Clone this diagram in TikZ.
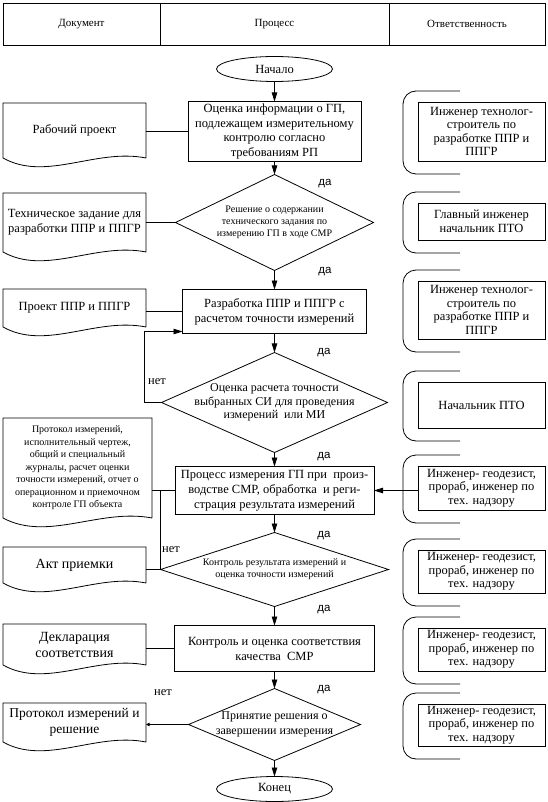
\documentclass[tikz,border=0pt]{standalone}
\usepackage{fontspec}
\setmainfont{LiberationSerif}[Extension=.ttf, UprightFont=*-Regular, BoldFont=*-Bold, ItalicFont=*-Italic, BoldItalicFont=*-BoldItalic]
\newfontfamily\lblsans{LiberationSans}[Extension=.ttf, UprightFont=*-Regular]
\usepackage{tikz}
\usetikzlibrary{calc, shapes.geometric, arrows.meta, positioning}

\begin{document}
\begin{tikzpicture}[
        x=1pt, y=-1pt,
        line width=0.8pt,
        every node/.style = {outer sep=0pt},
        hdr/.style = {draw, rectangle, anchor=north west, minimum height=42pt, font=\fontsize{11}{13}\selectfont},
        procbox/.style = {draw, rectangle, align=center, inner sep=2pt, font=\fontsize{12.5}{15}\selectfont},
        decision/.style = {draw, diamond, align=center, inner sep=-8pt},
        terminal/.style = {draw, ellipse, inner sep=-2pt, minimum width=116pt, minimum height=25pt, font=\fontsize{12.5}{15}\selectfont},
        docnode/.style = {rectangle, anchor=north west, minimum width=143pt, align=center, inner sep=2pt, font=\fontsize{12.5}{15}\selectfont},
        respbox/.style = {draw, rectangle, anchor=north west, minimum width=127pt, align=center, inner sep=2pt, font=\fontsize{12.5}{13.5}\selectfont},
        arrow/.style = {-{Triangle[width=5.5pt, length=9pt]}},
        tinyarrow/.style = {-{Triangle[width=3.5pt, length=3.5pt]}},
        yeslbl/.style = {font=\lblsans\fontsize{11.5}{13}\selectfont},
        nolbl/.style = {font=\fontsize{12.5}{14}\selectfont}
    ]
        \useasboundingbox (0,0) rectangle (548,802);

        % === Header ===
        \node (hdoc) [hdr, minimum width=157pt] at (3,3) {Документ};
        \node (hproc) [hdr, minimum width=229pt] at (160,3) {Процесс};
        \node (hresp) [hdr, minimum width=156pt] at (389,3) {Ответственность};

        % === Process column ===
        \node (start) [terminal] at (274.5,69) {Начало};

        \node (box1) [procbox, minimum width=173pt, minimum height=60pt, below=20pt of start, font=\fontsize{12.5}{14.5}\selectfont] {Оценка информации о ГП,\\подлежащем измерительному\\контролю согласно\\требованиям РП};

        \node (d1) [decision, minimum width=198pt, minimum height=96pt, aspect=2.06, below=13pt of box1, font=\fontsize{10}{12}\selectfont] {Решение о содержании\\технического задания по\\измерению ГП в ходе СМР};

        \node (box3) [procbox, minimum width=184pt, minimum height=44pt, below=19pt of d1] {Разработка ППР и ППГР с\\расчетом точности измерений};

        \node (d2) [decision, minimum width=226pt, minimum height=100pt, aspect=2.26, below=19pt of box3, font=\fontsize{12}{13.5}\selectfont] {Оценка расчета точности\\выбранных СИ для проведения\\измерений\ \ или МИ};

        \node (box5) [procbox, minimum width=199pt, minimum height=48pt, below=14pt of d2] {Процесс измерения ГП при\ \ произ-\\водстве СМР, обработка\ \ и реги-\\страция результата измерений};

        \node (d3) [decision, minimum width=228pt, minimum height=74pt, aspect=3.08, below=18pt of box5, font=\fontsize{10}{12}\selectfont] {Контроль результата измерений и\\оценка точности измерений};

        \node (box7) [procbox, minimum width=200pt, minimum height=46pt, below=19pt of d3] {Контроль и оценка соответствия\\качества\ \ СМР};

        \node (d4) [decision, minimum width=172pt, minimum height=72pt, aspect=2.39, below=17pt of box7, font=\fontsize{12}{15}\selectfont] {Принятие решения о\\завершении измерения};

        \node (finish) [terminal, below=16pt of d4] {Конец};

        % === Documents ===
        \node (rp) [docnode, minimum height=55pt] at (3,103) {Рабочий проект};
        \node (tz) [docnode, minimum height=59pt] at (3,193) {Техническое задание для\\разработки ППР и ППГР};
        \node (pr) [docnode, minimum height=38pt] at (3,289) {Проект ППР и ППГР};
        \node (pi) [docnode, minimum width=149pt, minimum height=100pt, font=\fontsize{10}{12.5}\selectfont] at (3,418) {Протокол измерений,\\исполнительный чертеж,\\общий и специальный\\журналы, расчет оценки\\точности измерений, отчет о\\операционном и приемочном\\контроле ГП объекта};
        \node (ap) [docnode, minimum height=36pt, font=\fontsize{14}{16}\selectfont] at (3,547) {Акт приемки};
        \node (dk) [docnode, minimum height=41pt, font=\fontsize{14}{16}\selectfont] at (3,624) {Декларация\\соответствия};
        \node (pz) [docnode, minimum height=39pt, font=\fontsize{13.5}{16}\selectfont] at (3,703) {Протокол измерений и\\решение};

        \foreach \dn in {rp,tz,pr,pi,ap,dk,pz}
            \draw (\dn.south east) -- (\dn.north east) -- (\dn.north west) -- (\dn.south west)
                .. controls ($(\dn.south west)!0.3!(\dn.south east)+(0,24)$) and ($(\dn.south west)!0.65!(\dn.south east)+(0,-10)$) .. (\dn.south east);

        % === Responsibility ===
        \node (r1) [respbox, minimum height=59pt] at (418,102) {Инженер технолог-\\строитель по\\разработке ППР и\\ППГР};
        \node (r2) [respbox, minimum height=37pt] at (418,203) {Главный инженер\\начальник ПТО};
        \node (r3) [respbox, minimum height=58pt] at (418,281) {Инженер технолог-\\строитель по\\разработке ППР и\\ППГР};
        \node (r4) [respbox, minimum height=46pt] at (418,382) {Начальник ПТО};
        \node (r5) [respbox, minimum height=44pt] at (418,466) {Инженер- геодезист,\\прораб, инженер по\\тех. надзору};
        \node (r6) [respbox, minimum height=43pt] at (418,550) {Инженер- геодезист,\\прораб, инженер по\\тех. надзору};
        \node (r7) [respbox, minimum height=43pt] at (418,628) {Инженер- геодезист,\\прораб, инженер по\\тех. надзору};
        \node (r8) [respbox, minimum height=42pt] at (418,704) {Инженер- геодезист,\\прораб, инженер по\\тех. надзору};

        \foreach \rn in {r1,r2,r3,r4,r5,r6,r7,r8}
            \draw[rounded corners=13pt] ($(\rn.north west)+(42,-11)$) -- ($(\rn.north west)+(-15,-11)$)
                -- ($(\rn.south west)+(-15,13)$) -- ($(\rn.south west)+(42,13)$);

        % === Arrows ===
        \draw [arrow] (start) -- (box1);
        \draw [arrow] (box1) -- (d1);
        \draw [arrow] (d1) -- (box3);
        \draw [arrow] (box3) -- (d2);
        \draw [arrow] (d2) -- (box5);
        \draw [arrow] (box5) -- (d3);
        \draw [arrow] (d3) -- (box7);
        \draw [arrow] (box7) -- (d4);
        \draw [arrow] (d4) -- (finish);

        \coordinate (loopin) at ($(box3.south west)+(0,-2)$);
        \draw [arrow] (d2.west) -- ++(-17,0) |- (loopin);
        \draw [arrow] (r5.west |- box5.east) -- (box5.east);

        % documents
        \draw (rp.east |- box1.west) -- (box1.west);
        \draw (tz.east |- d1.west) -- (d1.west);
        \draw (pr.east |- box3.west) -- (box3.west);
        \draw (pi.east |- box5.west) -- (box5.west);
        \draw (ap.east |- d3.west) -- (d3.west);
        \draw (d3.west) -- (d3.west |- box5.west);
        \draw (dk.east |- box7.west) -- (box7.west);
        \draw [tinyarrow] (d4.west) -- (d4.west -| pz.east);

        % labels
        \node (yes1) [yeslbl] at (325,184) {да};
        \node (yes2) [yeslbl] at (325,272) {да};
        \node (yes3) [yeslbl] at (324,353) {да};
        \node (yes4) [yeslbl] at (324,457) {да};
        \node (yes5) [yeslbl] at (324,536) {да};
        \node (yes6) [yeslbl] at (324,610) {да};
        \node (yes7) [yeslbl] at (324,690) {да};
        \node (no1) [nolbl] at (157,382) {нет};
        \node (no2) [nolbl] at (171,550) {нет};
        \node (no3) [nolbl] at (163,693) {нет};

    \end{tikzpicture}
\end{document}
